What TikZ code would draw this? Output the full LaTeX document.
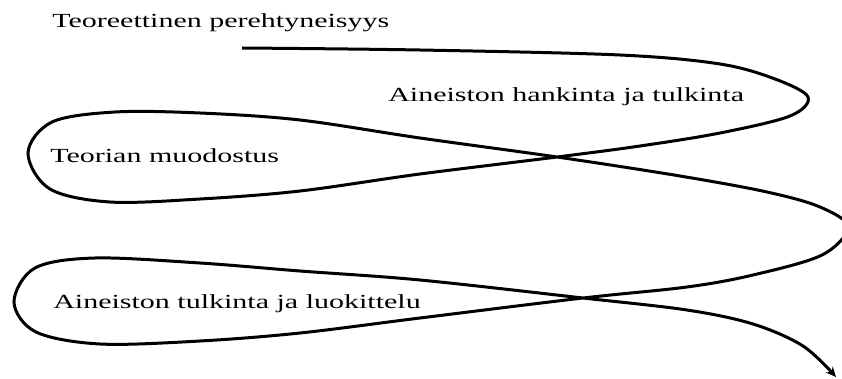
\documentclass[tikz,border=0pt]{standalone}
\usepackage{fontspec}
\setmainfont{Liberation Serif}
\usetikzlibrary{arrows.meta}
\tikzset{
  label text/.style={anchor=base west, inner sep=0pt, font=\fontsize{20}{24}\selectfont, xscale=1.5},
  spiral/.style={line width=3pt, -{Stealth[length=10pt,width=9pt]}}
}
\begin{document}
\begin{tikzpicture}[x=1pt,y=-1pt]
\useasboundingbox[fill=white] (0,0) rectangle (842,379);
% labels
\node[label text] (t1) at (52,28) {Teoreettinen perehtyneisyys};
\node[label text] (t2) at (388,102) {Aineiston hankinta ja tulkinta};
\node[label text] (t3) at (50,163) {Teorian muodostus};
\node[label text] (t4) at (53,308) {Aineiston tulkinta ja luokittelu};
% the winding research path
\draw[spiral] plot[smooth, tension=0.55] coordinates {
  (242,48) (420,50) (620,55) (720,64) (775,79) (808,97)
  (790,116) (720,133) (640,146) (557,157) (420,174) (300,191)
  (200,199) (110,202) (50,189) (28,153) (52,122) (115,112)
  (200,113) (300,120) (420,138) (557,157) (680,176) (767,192)
  (820,207) (848,227) (822,255) (753,275) (687,287) (583,298)
  (420,318) (300,333) (200,341) (100,344) (36,332) (14,302)
  (35,268) (95,258) (200,263) (300,271) (420,280) (583,298)
  (687,310) (753,324) (803,346) (836,377)
};
\end{tikzpicture}
\end{document}
